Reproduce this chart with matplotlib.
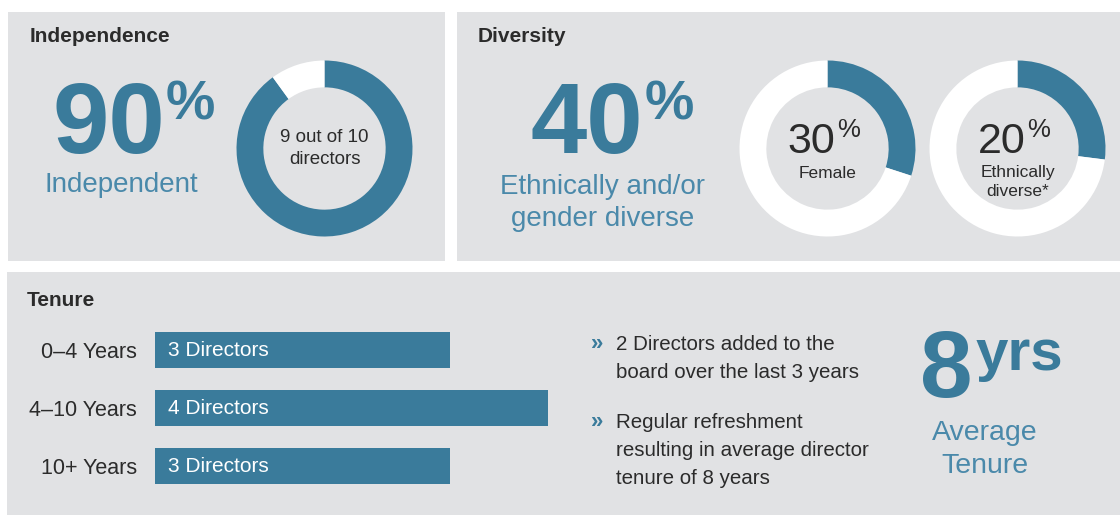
import matplotlib.pyplot as plt
from matplotlib.patches import Rectangle

plt.rcParams["font.family"] = ["Liberation Sans", "DejaVu Sans"]

independent_pct = 90
diverse_pct = 40
female_pct = 30
ethnic_pct = 20
ethnic_arc = 27  # the arc as drawn is longer than its label
tenure_bands = ["0\u20134 Years", "4\u201310 Years", "10+ Years"]
tenure_counts = [3, 4, 3]
avg_tenure = 8
bullets = [
    ["2 Directors added to the", "board over the last 3 years"],
    ["Regular refreshment", "resulting in average director", "tenure of 8 years"],
]

BLUE = "#3a7b9b"
BLUE_TXT = "#4a89aa"
PANEL = "#e1e2e4"
DARK = "#2b2b2b"

W, H = 1120, 515
fig = plt.figure(figsize=(W / 100, H / 100), dpi=100)
fig.patch.set_facecolor("white")

# background layer in pixel coordinates
bg = fig.add_axes([0, 0, 1, 1])
bg.set_xlim(0, W)
bg.set_ylim(H, 0)
bg.axis("off")
for x0, y0, x1, y1 in [(8, 12, 445, 261), (457, 12, 1120, 261), (7, 272, 1120, 515)]:
    bg.add_patch(Rectangle((x0, y0), x1 - x0, y1 - y0, color=PANEL, lw=0))


def px_axes(x0, y0, w, h):
    ax = fig.add_axes([x0 / W, 1 - (y0 + h) / H, w / W, h / H])
    ax.patch.set_alpha(0)
    return ax


def donut(cx, cy, r, share):
    ax = px_axes(cx - r, cy - r, 2 * r, 2 * r)
    ax.pie([share, 100 - share], colors=[BLUE, "white"], startangle=90,
           counterclock=False, radius=1,
           wedgeprops=dict(width=0.305, edgecolor="none", linewidth=0))
    ax.set_xlim(-1, 1)
    ax.set_ylim(-1, 1)
    return ax


# --- Independence ---
bg.text(30, 36, "Independence", fontsize=15, fontweight="bold", color=DARK, va="center")
bg.text(53, 153, f"{independent_pct}", fontsize=73, fontweight="bold", color=BLUE, va="baseline")
bg.text(166, 120, "%", fontsize=40, fontweight="bold", color=BLUE, va="baseline")
bg.text(121, 185, "Independent", fontsize=20, color=BLUE_TXT, ha="center", va="center")
donut(324.5, 148.5, 88, independent_pct)
bg.text(324.5, 138, "9 out of 10", fontsize=13.5, color=DARK, ha="center", va="center")
bg.text(324.5, 159, "directors", fontsize=13.5, color=DARK, ha="center", va="center")

# --- Diversity ---
bg.text(478, 36, "Diversity", fontsize=15, fontweight="bold", color=DARK, va="center")
bg.text(531, 153, f"{diverse_pct}", fontsize=73, fontweight="bold", color=BLUE, va="baseline")
bg.text(645, 120, "%", fontsize=40, fontweight="bold", color=BLUE, va="baseline")
bg.text(603, 187, "Ethnically and/or", fontsize=20, color=BLUE_TXT, ha="center", va="center")
bg.text(603, 219, "gender diverse", fontsize=20, color=BLUE_TXT, ha="center", va="center")

for cx, arc, pct, lines in [(827.5, female_pct, female_pct, ["Female"]),
                             (1017.5, ethnic_arc, ethnic_pct, ["Ethnically", "diverse*"])]:
    donut(cx, 148.5, 88, arc)
    bg.text(cx + 8, 153, f"{pct}", fontsize=31, color=DARK, ha="right", va="baseline")
    bg.text(cx + 10, 137, "%", fontsize=18.5, color=DARK, ha="left", va="baseline")
    for k, s in enumerate(lines):
        bg.text(cx, 173 + 18.5 * k, s, fontsize=12.5, color=DARK, ha="center", va="center")

# --- Tenure ---
bg.text(27, 300, "Tenure", fontsize=15, fontweight="bold", color=DARK, va="center")
ax = px_axes(155, 321, 393, 174)
ypos = list(range(len(tenure_bands)))
ax.barh(ypos, tenure_counts, height=0.63, color=BLUE, lw=0)
ax.set_xlim(0, max(tenure_counts))
ax.set_ylim(len(tenure_bands) - 0.5, -0.5)
ax.set_yticks(ypos, tenure_bands, fontsize=15.5, color=DARK)
ax.tick_params(axis="y", length=0, pad=13)
ax.set_xticks([])
for s in ax.spines.values():
    s.set_visible(False)
for y, n in zip(ypos, tenure_counts):
    ax.text(0.13, y, f"{n} Directors", fontsize=15, color="white", va="center")

line_y = 345
for block in bullets:
    bg.text(591, line_y, "\u00bb", fontsize=16, fontweight="bold", color=BLUE, va="center")
    for s in block:
        bg.text(616, line_y, s, fontsize=14.8, color=DARK, va="center")
        line_y += 27.5
    line_y += 23

bg.text(920, 397, f"{avg_tenure}", fontsize=68, fontweight="bold", color=BLUE, va="baseline")
bg.text(976, 370, "yrs", fontsize=42, fontweight="bold", color=BLUE, va="baseline")
bg.text(985, 433, "Average", fontsize=20.5, color=BLUE_TXT, ha="center", va="center")
bg.text(985, 466, "Tenure", fontsize=20.5, color=BLUE_TXT, ha="center", va="center")

fig.savefig("out.png", dpi=100)
